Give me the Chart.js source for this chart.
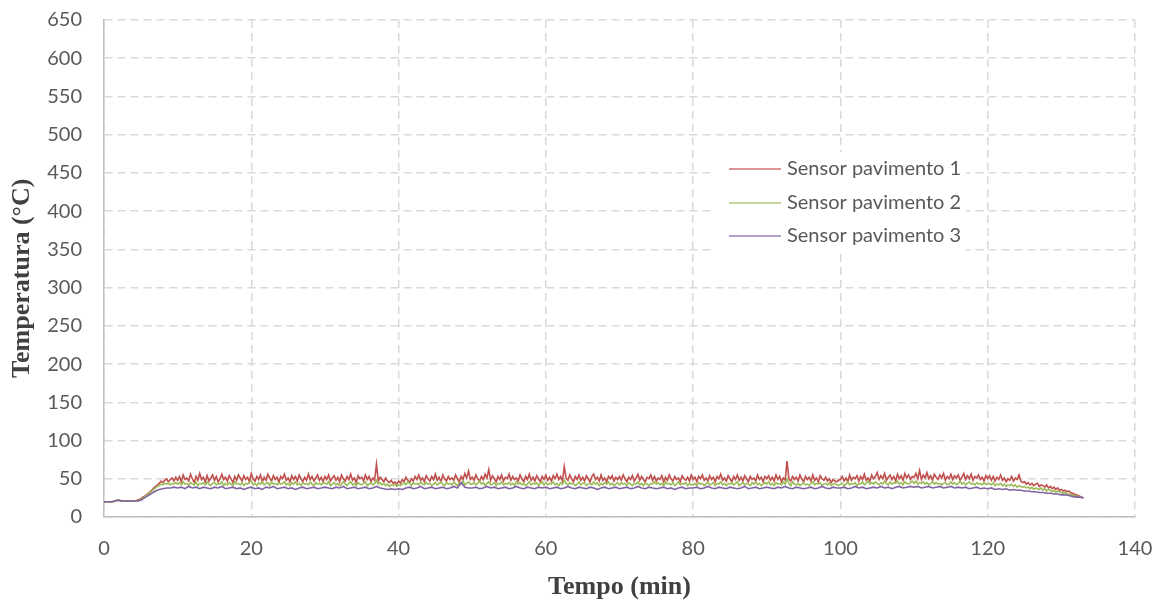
<!DOCTYPE html>
<html>
<head>
<meta charset="utf-8">
<script src="https://cdn.jsdelivr.net/npm/chart.js@4.4.0/dist/chart.umd.min.js"></script>
<style>
html,body{margin:0;padding:0;background:#fff;}
#wrap{width:1164px;height:604px;position:relative;}
</style>
</head>
<body>
<div id="wrap"><canvas id="c" width="1164" height="604"></canvas></div>
<script>
// ---- data ----
const SERIES_LABELS = ['Sensor pavimento 1', 'Sensor pavimento 2', 'Sensor pavimento 3'];
const X_TICKS = [0, 20, 40, 60, 80, 100, 120, 140];
const Y_TICKS = [0, 50, 100, 150, 200, 250, 300, 350, 400, 450, 500, 550, 600, 650];
const X_TITLE = 'Tempo (min)';
const Y_TITLE = 'Temperatura (°C)';

// sampling interval of each series, minutes
const SENSOR_1_STEP = 0.25;
const SENSOR_2_STEP = 0.25;
const SENSOR_3_STEP = 0.5;

const SENSOR_1 = [
  20,20,20,20,20,20,21,22,22,21,21,21,21,21,21,21,21,21,22,23, 24,26,27,29,31,33,35,38,40,42,44,47,45,48,50,46,49,51,47,52,
  48,53,46,55,49,51,47,56,50,45,53,48,57,49,52,46,54,47,51,55, 48,53,46,50,56,49,52,47,54,50,45,53,48,55,51,47,54,49,52,46,
  57,50,47,53,49,55,46,52,48,56,51,47,54,49,52,45,53,50,56,48, 51,46,54,49,53,47,55,50,46,52,48,56,49,53,47,51,55,48,52,46,
  53,49,55,47,51,54,48,52,46,55,50,47,53,49,56,48,51,45,54,50, 52,47,55,49,53,46,51,48,69,47,52,49,46,51,47,45,48,44,46,43,
  47,44,49,46,52,48,45,50,47,53,49,55,48,51,46,54,50,47,53,49, 56,48,52,46,55,50,47,53,49,51,48,55,50,46,53,49,57,51,60,49,
  52,48,55,50,47,53,49,56,51,62,48,54,50,46,53,49,55,47,52,50, 56,48,53,49,51,47,55,50,46,53,49,56,48,52,47,54,50,46,53,49,
  55,48,52,47,54,50,56,49,53,47,66,51,48,55,50,46,53,49,55,48, 52,47,54,50,46,53,56,49,52,47,55,48,51,46,53,50,54,47,52,49,
  53,48,55,50,46,52,49,54,47,51,56,48,53,49,46,52,50,55,48,53, 47,51,49,54,46,52,48,55,50,47,53,49,51,46,54,50,48,52,47,55,
  49,52,46,53,50,55,48,51,47,54,49,52,46,53,50,56,48,51,47,54, 50,46,53,49,55,48,52,47,54,50,46,53,49,51,47,55,49,52,46,53,
  50,54,48,52,47,55,49,53,46,51,48,73,50,47,53,49,52,47,55,50, 46,53,49,52,47,55,48,51,46,54,50,48,52,47,50,45,49,47,46,48,
  49,53,47,51,46,55,48,52,50,54,47,53,49,56,48,51,47,55,50,53, 58,49,54,50,57,48,52,55,49,53,47,56,50,54,48,57,51,55,49,53,
  52,57,50,61,49,55,51,58,50,54,48,56,52,49,55,51,57,48,53,50, 56,49,54,51,55,48,52,57,49,54,50,56,48,53,51,55,49,52,47,54,
  50,54,48,53,47,52,49,55,48,51,46,50,48,53,47,51,49,55,47,45, 46,43,45,42,44,41,43,44,40,42,41,39,42,38,40,37,39,36,38,35,
  36,34,35,33,34,32,31,30,29,28,27,26,25
];
const SENSOR_2 = [
  20,20,20,20,20,20,21,22,22,21,21,21,21,21,21,21,21,21,21,22, 23,25,26,28,30,32,34,36,38,40,41,43,42,44,43,45,42,44,43,45,
  43,45,42,46,43,44,41,45,43,42,46,41,44,43,45,42,46,43,41,44, 45,42,44,43,46,41,44,42,45,43,41,46,43,44,42,45,41,44,43,46,
  47,42,44,41,45,43,46,42,44,45,41,46,43,44,42,45,43,44,46,42, 44,41,45,43,46,42,44,41,45,43,44,42,46,43,41,45,43,44,42,45,
  44,43,46,41,43,45,42,44,41,43,46,43,41,44,46,42,44,41,45,43, 42,44,46,41,43,45,42,44,48,43,45,42,44,41,43,40,42,41,43,40,
  42,41,43,45,42,46,44,41,45,43,44,42,46,43,42,45,43,44,41,43, 45,42,44,46,43,41,45,43,44,42,46,43,41,45,43,47,42,44,46,43,
  43,45,42,44,47,43,45,41,44,46,42,43,45,41,44,43,46,42,44,43, 45,42,44,41,46,43,45,42,44,41,43,46,42,44,43,45,41,44,46,42,
  45,42,44,43,46,42,44,41,45,43,48,44,42,45,43,44,41,43,46,42, 44,45,41,43,44,42,46,43,45,41,44,42,45,43,46,42,44,41,43,45,
  42,45,43,44,41,45,43,41,44,43,46,42,44,41,45,43,41,44,43,46, 43,45,42,44,41,46,43,44,42,45,41,43,46,42,44,43,45,41,44,42,
  42,44,41,45,43,44,41,43,46,42,43,45,41,44,43,46,42,44,41,44, 43,45,42,44,46,41,43,45,42,44,43,41,45,43,46,42,44,41,43,45,
  43,46,42,44,41,45,43,44,42,46,43,50,44,41,46,43,42,44,41,43, 45,42,43,41,44,46,42,44,43,45,41,43,44,42,45,41,43,44,42,41,
  43,44,41,43,46,42,44,43,45,41,44,43,46,42,44,47,43,45,43,46, 44,42,45,43,47,44,42,46,43,45,44,47,43,45,42,46,44,43,45,47,
  44,47,43,45,44,46,43,45,42,44,46,43,45,43,44,42,44,45,42,43, 46,43,45,42,44,47,43,45,42,44,46,43,44,42,45,43,44,42,45,43,
  43,44,42,45,41,43,42,44,41,43,40,42,41,43,40,42,39,41,40,39, 40,38,39,37,39,36,38,37,36,38,35,37,34,36,35,33,35,32,34,33,
  32,31,32,30,30,29,29,28,27,27,26,26,25
];
const SENSOR_3 = [
  20,20,20,21,22,21,21,21,21,21,22,25,28,31,34,36,37,38,38,39,
  38,39,37,40,38,39,37,39,38,37,39,38,40,37,38,39,37,38,36,38,
  39,37,38,36,39,38,40,37,38,39,37,38,36,38,39,37,38,39,37,38,
  39,38,37,39,38,40,37,38,39,37,38,39,37,38,40,38,37,36,37,36,
  37,36,38,39,37,38,40,37,38,39,37,38,39,37,38,40,38,45,39,38,
  38,39,37,38,40,38,39,37,38,39,37,38,40,38,37,39,38,37,39,38,
  39,37,38,39,37,38,40,38,37,39,38,37,39,38,36,38,39,37,38,39,
  37,38,39,37,38,40,38,37,39,38,37,38,39,37,38,36,38,39,37,38,
  38,39,37,38,40,38,37,39,38,37,39,38,37,38,40,37,38,39,37,38,
  39,38,37,39,38,40,38,37,39,38,37,38,39,37,38,40,38,37,39,38,
  38,39,37,38,40,38,39,37,38,39,38,40,38,39,37,39,40,38,39,40,
  39,40,38,39,40,38,39,40,38,39,40,38,39,38,39,37,38,39,37,38,
  37,38,36,37,36,37,35,36,35,35,34,34,33,33,32,32,31,31,30,30,
  29,29,28,27,26,26,25
];

const SERIES_VALUES = [SENSOR_1, SENSOR_2, SENSOR_3];
const SERIES_STEPS = [SENSOR_1_STEP, SENSOR_2_STEP, SENSOR_3_STEP];
const SERIES_COLORS = ['#C0504D', '#9BBB59', '#8064A2'];

function toPoints(values, step) {
  return values.map((v, i) => ({ x: i * step, y: v }));
}

const TICK_FONT = { family: 'Lato', size: 20 };
const TICK_COLOR = '#595959';
const GRID_COLOR = '#d9d9d9';
const AXIS_COLOR = '#bfbfbf';
const TITLE_FONT = { family: 'Liberation Serif', size: 26, weight: 'bold' };
const TITLE_COLOR = '#404040';

function zeroPadding(scale) {
  scale.paddingTop = 0; scale.paddingBottom = 0;
  scale.paddingLeft = 0; scale.paddingRight = 0;
}

const inlineLegend = {
  id: 'inlineLegend',
  afterDraw(chart) {
    const ctx = chart.ctx;
    ctx.save();
    ctx.fillStyle = '#ffffff';
    ctx.fillRect(712, 152, 254, 100);
    ctx.font = '20px Lato';
    ctx.textBaseline = 'middle';
    ctx.textAlign = 'left';
    chart.data.datasets.forEach((ds, i) => {
      const y = Math.round(169 + i * 33.5);
      ctx.strokeStyle = ds.borderColor;
      ctx.lineWidth = 2;
      ctx.globalAlpha = 0.6;
      ctx.beginPath();
      ctx.moveTo(729, y);
      ctx.lineTo(781, y);
      ctx.stroke();
      ctx.globalAlpha = 1;
      ctx.fillStyle = TICK_COLOR;
      ctx.fillText(ds.label, 787, y);
    });
    ctx.restore();
  }
};

new Chart(document.getElementById('c'), {
  type: 'line',
  data: {
    datasets: SERIES_VALUES.map((vals, i) => ({
      label: SERIES_LABELS[i],
      data: toPoints(vals, SERIES_STEPS[i]),
      borderColor: SERIES_COLORS[i],
      backgroundColor: SERIES_COLORS[i],
      borderWidth: 1.6,
      pointRadius: 0,
      tension: 0,
      fill: false,
      order: 3 - i
    }))
  },
  options: {
    responsive: false,
    animation: false,
    events: [],
    layout: { padding: { top: 20, right: 29, bottom: 0, left: 0 } },
    plugins: {
      legend: { display: false },
      tooltip: { enabled: false }
    },
    scales: {
      x: {
        type: 'linear',
        min: X_TICKS[0],
        max: X_TICKS[X_TICKS.length - 1],
        afterBuildTicks(scale) { scale.ticks = X_TICKS.map(v => ({ value: v })); },
        afterFit(scale) { scale.height = 87; zeroPadding(scale); },
        ticks: { color: TICK_COLOR, font: TICK_FONT, padding: 20, maxRotation: 0, autoSkip: false },
        grid: { color: GRID_COLOR, lineWidth: 1.5, drawTicks: false },
        border: { display: true, color: AXIS_COLOR, width: 1.5, dash: [8, 5] },
        title: {
          display: true, text: X_TITLE, color: TITLE_COLOR, font: TITLE_FONT,
          padding: { top: 0, bottom: 1 }
        }
      },
      y: {
        type: 'linear',
        min: Y_TICKS[0],
        max: Y_TICKS[Y_TICKS.length - 1],
        afterBuildTicks(scale) { scale.ticks = Y_TICKS.map(v => ({ value: v })); },
        afterFit(scale) { scale.width = 104; zeroPadding(scale); },
        ticks: { color: TICK_COLOR, font: TICK_FONT, padding: 22, autoSkip: false },
        grid: { color: GRID_COLOR, lineWidth: 1.5, drawTicks: false },
        border: { display: true, color: AXIS_COLOR, width: 1.5, dash: [8, 5] },
        title: {
          display: true, text: Y_TITLE + '\u00A0\u00A0\u00A0', color: TITLE_COLOR, font: TITLE_FONT,
          padding: { top: 7, bottom: 0 }
        }
      }
    }
  },
  plugins: [inlineLegend]
});
</script>
</body>
</html>
